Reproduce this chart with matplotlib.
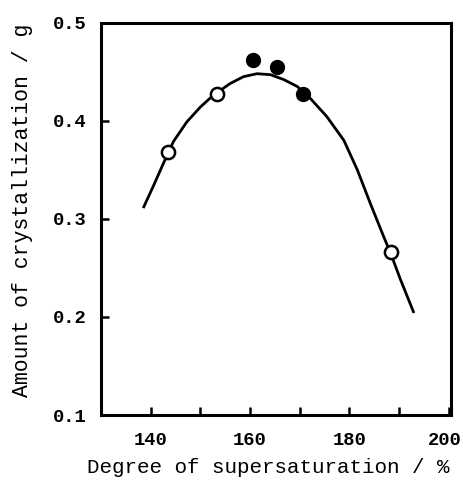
import numpy as np
import matplotlib
matplotlib.use("Agg")
from matplotlib import pyplot as plt
from matplotlib import transforms

# measured points
open_x = [143.4, 153.4, 188.3]
open_y = [0.368, 0.427, 0.266]
filled_x = [160.5, 165.5, 170.6]
filled_y = [0.462, 0.455, 0.427]

# hand drawn curve
curve_x = [138.5, 140.5, 142.6, 144.6, 147.3, 150.0, 152.6, 156.0, 158.7, 161.4,
           164.1, 166.8, 169.5, 172.1, 174.8, 175.5, 178.9, 181.6, 184.2, 186.9,
           188.3, 190.3, 193.0]
curve_y = [0.311, 0.333, 0.357, 0.379, 0.399, 0.414, 0.426, 0.438, 0.445, 0.448,
           0.447, 0.442, 0.435, 0.423, 0.408, 0.404, 0.380, 0.350, 0.316, 0.282,
           0.265, 0.238, 0.204]

xticks = [140, 160, 180, 200]
xminor = [150, 170, 190]
yticks = [0.1, 0.2, 0.3, 0.4, 0.5]

plt.rcParams['font.family'] = ['Liberation Mono', 'DejaVu Sans Mono']
plt.rcParams['font.weight'] = 'bold'

fig = plt.figure(figsize=(4.64, 4.8), dpi=100)
ax = fig.add_axes([0.2177, 0.1354, 0.7536, 0.8173])

ax.plot(curve_x, curve_y, color='black', lw=2.0, solid_capstyle='butt',
        solid_joinstyle='round')
ax.plot(open_x, open_y, 'o', ms=9.5, mfc='white', mec='black', mew=1.8)
ax.plot(filled_x, filled_y, 'o', ms=10, mfc='black', mec='black')

ax.set_xlim(130, 200.4)
ax.set_ylim(0.1, 0.5)
ax.set_xticks(xticks)
ax.set_xticks(xminor, minor=True)
ax.set_yticks(yticks)
ax.set_xticklabels([str(v) for v in xticks])
ax.set_yticklabels(['%.1f' % v for v in yticks])

for s in ax.spines.values():
    s.set_linewidth(2.2)
ax.tick_params(which='both', direction='in', length=6, width=1.8, labelsize=13.5)
ax.tick_params(axis='x', pad=12)
ax.tick_params(axis='y', pad=10)

# last x label sits a little left so it stays inside the figure
lbl = ax.get_xticklabels()[-1]
lbl.set_transform(lbl.get_transform() +
                  transforms.ScaledTranslation(-3 / 72, 0, fig.dpi_scale_trans))

ax.set_xlabel('Degree of supersaturation / %', fontsize=15)
ax.xaxis.set_label_coords(0.477, -0.11)
ax.set_ylabel('Amount of crystallization / g', fontsize=15.5)
ax.yaxis.set_label_coords(-0.194, 0.523)

fig.savefig('out.png', dpi=100)
